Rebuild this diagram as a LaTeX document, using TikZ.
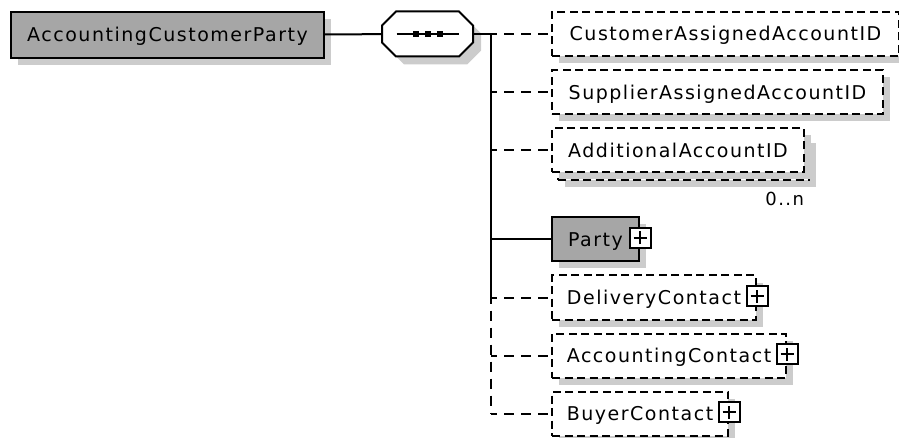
\documentclass[tikz,border=0pt]{standalone}
\usepackage{fontspec}
\setmainfont{DejaVu Sans}[LetterSpace=8]
\usetikzlibrary{positioning,shadows}

\newcommand{\octagon}[1]{([xshift=14pt]#1.north west) -- ([xshift=-14pt]#1.north east)
    -- ([yshift=-14pt]#1.north east) -- ([yshift=14pt]#1.south east)
    -- ([xshift=-14pt]#1.south east) -- ([xshift=14pt]#1.south west)
    -- ([yshift=14pt]#1.south west) -- ([yshift=-14pt]#1.north west) -- cycle}

\tikzset{
  schema/.style={
    x=1pt, y=-1pt,
    line width=2pt,
    every node/.style={inner sep=0pt, font=\fontsize{19}{22}\selectfont},
    broken/.style={dash pattern=on 8pt off 4.5pt},
    link/.style={dash pattern=on 10pt off 7pt, dash phase=4pt},
    element/.style={
        draw,
        fill=white,
        minimum height=44pt,
        text height=14pt,
        text depth=0pt,
        anchor=west,
        drop shadow={shadow xshift=7pt, shadow yshift=-7pt, fill=black!20, opacity=1},
    },
    global/.style={element, fill=black!35},
    optional/.style={element, broken},
    sequence/.style={minimum width=89pt, minimum height=43pt},
    expander/.style={
        draw,
        fill=white,
        minimum width=21pt,
        minimum height=20pt,
        path picture={
            \draw[line width=2pt] ([xshift=-6.5pt]path picture bounding box.center) -- ([xshift=6.5pt]path picture bounding box.center);
            \draw[line width=2pt] ([yshift=-6.5pt]path picture bounding box.center) -- ([yshift=6.5pt]path picture bounding box.center);
        },
    },
    count/.style={font=\fontsize{18}{20}\selectfont},
  }
}

\begin{document}
\begin{tikzpicture}[schema]
    \useasboundingbox (0,0) rectangle (899,438);

    \node[global, minimum width=313pt, minimum height=46pt] (root) at (10,35) {AccountingCustomerParty};

    \node[sequence] (seq) at (427.5,34) {};
    \fill[black!20, transform canvas={shift={(8pt,-8pt)}}] \octagon{seq};
    \filldraw[fill=white] \octagon{seq};
    \draw ([xshift=-31pt]seq.center) -- ([xshift=31pt]seq.center);
    \foreach \d in {-12,0,12}
        \fill ([xshift=\d pt]seq.center) +(-3,-3) rectangle +(3,3);

    \node[optional, minimum width=347pt] (cust) at (551,34) {CustomerAssignedAccountID};
    \node[optional, minimum width=331pt] (supp) at (551,92.5) {SupplierAssignedAccountID};
    \node[optional, minimum width=251pt] (addl back) at (557,158.5) {};
    \node[optional, drop shadow={opacity=0}, minimum width=252pt] (addl) at (551,150.5) {AdditionalAccountID};
    \node[count, anchor=base east] (addl count) at ([yshift=-32pt]addl.south east) {0..n};
    \node[global, minimum width=87pt] (party) at (551,239.5) {Party\hspace{17pt}};
    \node[optional, minimum width=204pt] (delivery) at (551,297.5) {DeliveryContact\hspace{17pt}};
    \node[optional, minimum width=234pt] (accounting) at (551,355.5) {AccountingContact\hspace{17pt}};
    \node[optional, minimum width=176pt] (buyer) at (551,413.5) {BuyerContact\hspace{17pt}};

    \foreach \n in {party, delivery, accounting, buyer}
        \node[expander] (\n\space plus) at ([yshift=1.5pt]\n.east) {};

    \coordinate (fork) at (491,34);
    \draw (root) -- (seq);
    \draw (seq) -- (fork) -- (fork |- delivery);
    \draw[link] (fork |- delivery) -- (fork |- buyer);
    \draw[link] (fork) -- (cust);
    \foreach \n in {supp, addl, delivery, accounting, buyer}
        \draw[link] (fork |- \n) -- (\n);
    \draw (fork |- party) -- (party);
\end{tikzpicture}
\end{document}
